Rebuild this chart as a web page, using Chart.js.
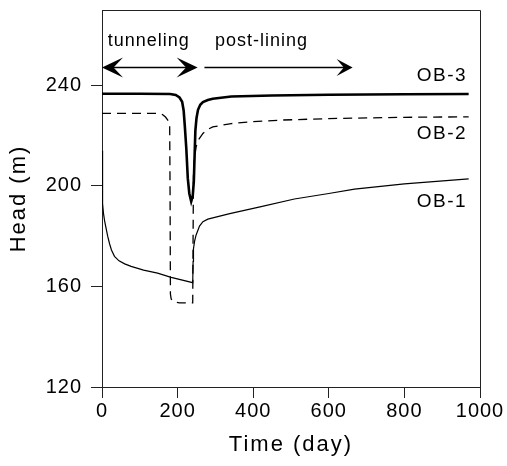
<!DOCTYPE html>
<html>
<head>
<meta charset="utf-8">
<script src="https://cdn.jsdelivr.net/npm/chart.js@4.4.1/dist/chart.umd.min.js"></script>
<style>
  body { margin: 0; background: #fff; }
</style>
</head>
<body>
<canvas id="chart" width="507" height="466"></canvas>
<script>
const ob1Days = [0, 1, 2, 4, 7, 11, 15, 20, 25, 33, 45, 60, 77, 110, 147, 183, 240, 241, 242, 245, 249, 258, 267, 280, 338, 421, 509, 600, 668, 800, 970];
const ob1Head = [214, 200, 193, 189, 186, 183, 180, 177, 174.5, 172, 170.2, 169, 168, 166.5, 165.3, 163.6, 161.5, 170, 175, 178, 180.5, 184, 185.8, 186.8, 189, 191.8, 194.8, 197, 198.7, 200.8, 202.8];

const ob2Days = [0, 150, 160, 168, 175, 179, 180, 181, 183, 190, 205, 240, 241, 242, 244, 249, 255, 267, 280, 293, 342, 400, 474, 600, 800, 970];
const ob2Head = [228.9, 228.9, 228.4, 227.4, 226, 225, 200, 157, 155, 153.8, 153.5, 153.5, 180, 205, 210.5, 215.6, 218.3, 220.9, 222.5, 223.5, 224.8, 225.6, 226.2, 226.8, 227.3, 227.5];

const ob3Days = [0, 100, 180, 195, 205, 212, 216, 219, 223, 227, 231, 236, 240, 243, 245, 247, 250, 254, 260, 267, 280, 293, 342, 450, 600, 800, 970];
const ob3Head = [236.7, 236.7, 236.6, 236.2, 235.2, 233.5, 230, 224, 215, 203, 197, 193.8, 196, 202, 212, 222, 227, 230.3, 232.3, 233.4, 234.2, 234.7, 235.6, 236, 236.3, 236.5, 236.6];

const xTicks = [0, 200, 400, 600, 800, 1000];
const yTicks = [120, 160, 200, 240];

// annotation text and where it sits (data units)
const seriesLabels = ["OB-1", "OB-2", "OB-3"];
const seriesLabelHead = [193.8, 220.6, 244];
const phaseLabels = ["tunneling", "post-lining"];
const phaseLabelDay = [15, 299];
const arrowHeadValue = 247.5;

const FONT = "'Liberation Sans', Arial, sans-serif";

const toPoints = (days, head) => days.map((d, i) => ({ x: d, y: head[i] }));

//Helper to draw a barbed arrowhead pointing in direction dir (-1 left, 1 right)
const arrowHead = (ctx, x, y, dir, len, half) => {
  ctx.beginPath();
  ctx.moveTo(x, y);
  ctx.lineTo(x - dir * len, y - half);
  ctx.lineTo(x - dir * len * 0.55, y);
  ctx.lineTo(x - dir * len, y + half);
  ctx.closePath();
  ctx.fill();
};

const annotations = {
  id: "annotations",
  beforeDraw(chart) {
    // spacing for axis titles (drawn before the datasets)
    chart.ctx.letterSpacing = "2px";
  },
  afterDatasetsDraw(chart) {
    // spacing for tick labels (drawn on top, z = 1)
    chart.ctx.letterSpacing = "1px";
  },
  afterDraw(chart) {
    const { ctx, chartArea, scales } = chart;
    const x = scales.x, y = scales.y;
    ctx.save();
    ctx.letterSpacing = "0px";

    // frame top and right
    ctx.strokeStyle = "#222";
    ctx.lineWidth = 1;
    ctx.beginPath();
    ctx.moveTo(chartArea.left, chartArea.top + 0.5);
    ctx.lineTo(chartArea.right + 0.5, chartArea.top + 0.5);
    ctx.lineTo(chartArea.right + 0.5, chartArea.bottom);
    ctx.stroke();

    // phase arrows
    const ay = Math.round(y.getPixelForValue(arrowHeadValue)) + 0.5;
    const t0 = x.getPixelForValue(0), t1 = x.getPixelForValue(253);
    const p0 = x.getPixelForValue(271), p1 = x.getPixelForValue(663);
    ctx.fillStyle = "#000";
    ctx.strokeStyle = "#000";
    ctx.lineWidth = 1.6;
    ctx.beginPath();
    ctx.moveTo(t0 + 8, ay);
    ctx.lineTo(t1 - 8, ay);
    ctx.stroke();
    arrowHead(ctx, t0, ay, -1, 21, 10);
    arrowHead(ctx, t1, ay, 1, 21, 10);
    ctx.lineWidth = 1.3;
    ctx.beginPath();
    ctx.moveTo(p0, ay);
    ctx.lineTo(p1 - 6, ay);
    ctx.stroke();
    arrowHead(ctx, p1, ay, 1, 16, 8.5);

    // phase labels
    ctx.font = "18px " + FONT;
    ctx.letterSpacing = "1px";
    ctx.textAlign = "left";
    ctx.textBaseline = "alphabetic";
    phaseLabels.forEach((txt, i) => {
      ctx.fillText(txt, x.getPixelForValue(phaseLabelDay[i]), y.getPixelForValue(255.8));
    });

    // series labels
    ctx.font = "19px " + FONT;
    ctx.letterSpacing = "1.5px";
    ctx.textAlign = "right";
    ctx.textBaseline = "middle";
    seriesLabels.forEach((txt, i) => {
      ctx.fillText(txt, x.getPixelForValue(966), y.getPixelForValue(seriesLabelHead[i]));
    });
    ctx.restore();
  },
};

const lineStyle = { pointRadius: 0, tension: 0, borderColor: "#000", fill: false };

new Chart(document.getElementById("chart"), {
  type: "line",
  data: {
    datasets: [
      { label: "OB-1", data: toPoints(ob1Days, ob1Head), borderWidth: 1.2, ...lineStyle },
      { label: "OB-2", data: toPoints(ob2Days, ob2Head), borderWidth: 1.3, borderDash: [9, 6], ...lineStyle },
      { label: "OB-3", data: toPoints(ob3Days, ob3Head), borderWidth: 2.6, ...lineStyle },
    ],
  },
  options: {
    responsive: false,
    animation: false,
    layout: { padding: { top: 10, right: 27, left: 0, bottom: 0 } },
    plugins: { legend: { display: false }, tooltip: { enabled: false } },
    scales: {
      x: {
        type: "linear",
        min: 0,
        max: 1000,
        afterBuildTicks: (s) => { s.ticks = xTicks.map((v) => ({ value: v })); },
        afterFit: (s) => { s.height = 79; s.paddingLeft = 0; s.paddingRight = 0; },
        ticks: { color: "#000", font: { family: FONT, size: 20 }, padding: 1, z: 1, maxRotation: 0, callback: (v) => String(v) },
        grid: { drawOnChartArea: false, drawTicks: true, tickLength: 11, color: "#222" },
        border: { color: "#222", width: 1 },
        title: { display: true, text: "Time (day)", color: "#000", font: { family: FONT, size: 22 }, padding: { top: 0, bottom: 8 } },
      },
      y: {
        min: 120,
        max: 270,
        afterBuildTicks: (s) => { s.ticks = yTicks.map((v) => ({ value: v })); },
        afterFit: (s) => { s.width = 102; s.paddingTop = 0; s.paddingBottom = 0; },
        ticks: { color: "#000", font: { family: FONT, size: 20 }, padding: 9, z: 1, callback: (v) => String(v) },
        grid: { drawOnChartArea: false, drawTicks: true, tickLength: 11, color: "#222" },
        border: { color: "#222", width: 1 },
        title: { display: true, text: "Head (m)", color: "#000", font: { family: FONT, size: 22 }, padding: { top: 6, bottom: 0 } },
      },
    },
  },
  plugins: [annotations],
});
</script>
</body>
</html>
